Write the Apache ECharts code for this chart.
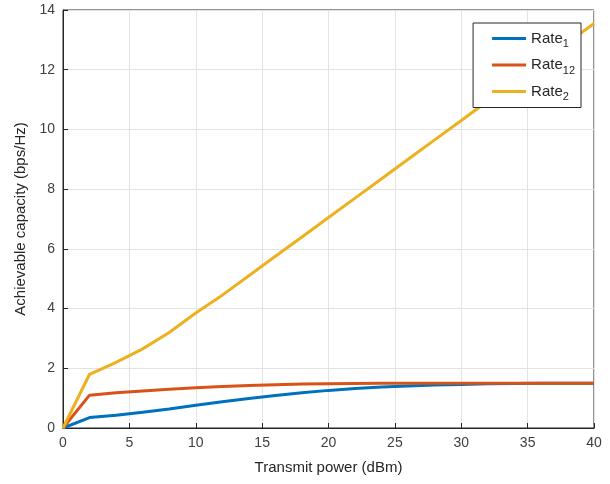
<!DOCTYPE html>
<html>
<head>
<meta charset="utf-8">
<script src="https://cdn.jsdelivr.net/npm/echarts@6/dist/echarts.min.js"></script>
<style>
  html, body { margin: 0; padding: 0; background: #fff; }
  #chart { width: 610px; height: 484px; }
</style>
</head>
<body>
<div id="chart"></div>
<script>
const power = [0, 2, 4, 6, 8, 10, 12, 14, 16, 18, 20, 22, 24, 26, 28, 30, 32, 34, 36, 38, 40];
const rate1 = [0, 0.35, 0.43, 0.53, 0.64, 0.76, 0.88, 0.99, 1.09, 1.18, 1.26, 1.32, 1.37, 1.41, 1.44, 1.46, 1.48, 1.49, 1.5, 1.5, 1.5];
const rate12 = [0, 1.1, 1.18, 1.24, 1.3, 1.35, 1.39, 1.42, 1.45, 1.47, 1.48, 1.49, 1.5, 1.5, 1.5, 1.5, 1.5, 1.5, 1.5, 1.5, 1.5];
const rate2 = [0, 1.8, 2.2, 2.65, 3.2, 3.85, 4.45, 5.1, 5.75, 6.4, 7.05, 7.7, 8.35, 9.0, 9.65, 10.3, 10.95, 11.6, 12.25, 12.9, 13.55];

const seriesNames = ["Rate1", "Rate12", "Rate2"];
const colors = ["#0072BD", "#D95319", "#EDB120"];

function pairs(ys) {
    return power.map((x, i) => [x, ys[i]]);
}

const chart = echarts.init(document.getElementById("chart"));
const axisText = { color: "#404040", fontSize: 14, fontFamily: "Liberation Sans" };
const option = {
    animation: false,
    grid: {
        left: 63, right: 16, top: 10, bottom: 56,
        show: true, borderColor: "#262626", borderWidth: 1
    },
    legend: {
        orient: "vertical",
        right: 29,
        top: 23,
        itemWidth: 34,
        itemHeight: 14,
        itemGap: 8,
        padding: [8, 6, 5, 19],
        backgroundColor: "#fff",
        borderColor: "#262626",
        borderWidth: 1,
        borderRadius: 0,
        icon: "path://M0,0 L34,0 L34,3 L0,3 Z",
        data: seriesNames,
        formatter: function (name) {
            return "{a|Rate}{b|" + name.slice(4) + "}";
        },
        textStyle: {
            rich: {
                a: { fontSize: 15, color: "#262626", fontFamily: "Liberation Sans" },
                b: { fontSize: 11, color: "#262626", fontFamily: "Liberation Sans", padding: [11, 0, 0, 0] }
            }
        }
    },
    xAxis: {
        type: "value",
        min: 0, max: 40, interval: 5,
        name: "Transmit power (dBm)",
        nameLocation: "middle",
        nameGap: 32,
        nameTextStyle: { color: "#262626", fontSize: 15, fontFamily: "Liberation Sans" },
        axisLine: { lineStyle: { color: "#262626" } },
        axisTick: { inside: true, length: 5, lineStyle: { color: "#262626" } },
        axisLabel: axisText,
        splitLine: { lineStyle: { color: "#e3e3e3" } }
    },
    yAxis: {
        type: "value",
        min: 0, max: 14, interval: 2,
        name: "Achievable capacity (bps/Hz)",
        nameLocation: "middle",
        nameGap: 35,
        nameTextStyle: { color: "#262626", fontSize: 15, fontFamily: "Liberation Sans" },
        axisLine: { show: true, lineStyle: { color: "#262626" } },
        axisTick: { show: true, inside: true, length: 5, lineStyle: { color: "#262626" } },
        axisLabel: axisText,
        splitLine: { lineStyle: { color: "#e3e3e3" } }
    },
    series: [rate1, rate12, rate2].map((ys, i) => ({
        name: seriesNames[i],
        type: "line",
        data: pairs(ys),
        showSymbol: false,
        lineStyle: { width: 3, color: colors[i] },
        itemStyle: { color: colors[i] }
    }))
};
chart.setOption(option);
</script>
</body>
</html>
